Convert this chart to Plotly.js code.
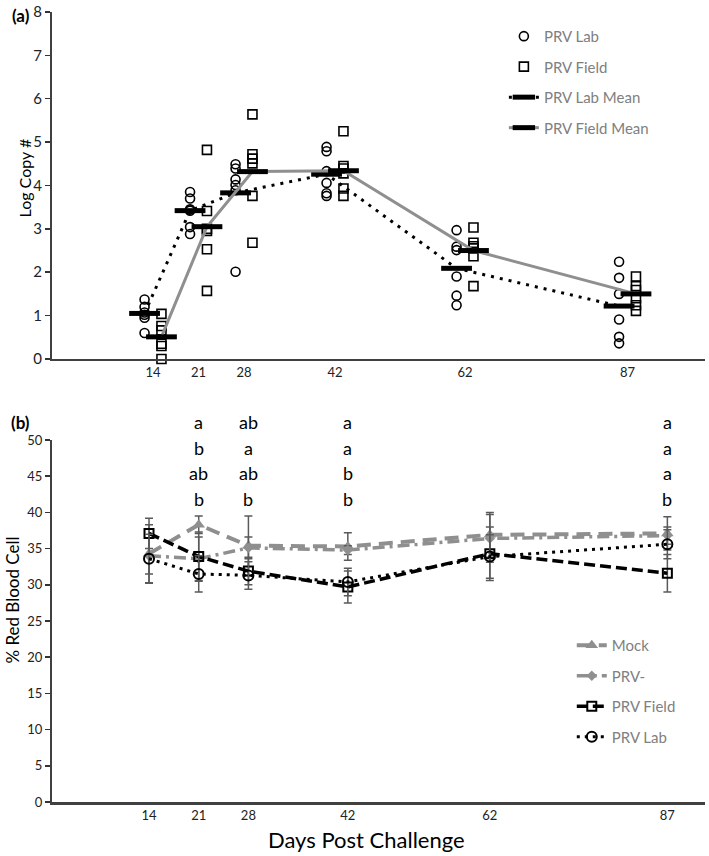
<!DOCTYPE html>
<html><head><meta charset="utf-8">
<script src="https://cdn.plot.ly/plotly-3.0.1.min.js"></script>
<style>html,body{margin:0;padding:0;background:#fff}#chart{width:709px;height:856px}</style>
</head><body><div id="chart"></div>
<script>
// ---------- data ----------
const days = [14, 21, 28, 42, 62, 87];
const dayLabels = ['14', '21', '28', '42', '62', '87'];

// (a) log copy number, individual animals per day
const labLog = [
  [1.37, 1.20, 1.07, 1.02, 0.95, 0.60],
  [3.85, 3.70, 3.45, 3.42, 3.04, 2.88],
  [4.49, 4.39, 4.14, 4.01, 3.89, 2.01],
  [4.89, 4.79, 4.33, 4.06, 3.82, 3.76],
  [2.97, 2.59, 2.51, 1.90, 1.46, 1.24],
  [2.24, 1.87, 1.50, 0.91, 0.51, 0.36]
];
const fieldLog = [
  [1.04, 0.76, 0.66, 0.35, 0.30, 0.00],
  [4.82, 3.41, 3.00, 2.95, 2.53, 1.57],
  [5.64, 4.72, 4.62, 4.51, 3.76, 2.68],
  [5.25, 4.45, 4.39, 4.28, 3.93, 3.76],
  [3.03, 2.68, 2.60, 2.55, 2.37, 1.68],
  [1.90, 1.68, 1.59, 1.40, 1.24, 1.11]
];
const labMean = [1.05, 3.42, 3.83, 4.26, 2.09, 1.22];
const fieldMean = [0.51, 3.05, 4.32, 4.34, 2.50, 1.50];

// (b) % red blood cell
const mockRbc = [34.3, 38.3, 35.4, 35.3, 36.9, 37.1];
const mockErr = [4.0, 1.2, 4.1, 1.9, 3.1, 2.3];
const prvNegRbc = [34.0, 33.6, 35.1, 34.8, 36.4, 36.8];
const prvNegErr = [2.5, 3.0, 1.5, 0.6, 3.3, 1.2];
const fieldRbc = [37.1, 33.9, 31.9, 29.7, 34.3, 31.6];
const fieldErr = [2.1, 3.4, 1.9, 2.2, 3.7, 2.6];
const labRbc = [33.6, 31.5, 31.3, 30.4, 33.9, 35.6];
const labErr = [3.4, 2.5, 1.9, 1.9, 3.0, 2.0];

// significance letters (rows top to bottom)
const letterDays = [21, 28, 42, 87];
const letters = [
  ['a', 'b', 'ab', 'b'],
  ['ab', 'a', 'ab', 'b'],
  ['a', 'a', 'b', 'b'],
  ['a', 'a', 'a', 'b']
];

// ---------- styling ----------
const FONT = 'Lato, "Open Sans", sans-serif';
const GREY = '#8f8f8f';
const OFF = 1.3; // horizontal jitter (days) between lab / field groups in (a)

function flatten(groups, shift) {
  const x = [], y = [];
  groups.forEach((g, i) => g.forEach(v => { x.push(days[i] + shift); y.push(v); }));
  return {x, y};
}
const labPts = flatten(labLog, -OFF);
const fieldPts = flatten(fieldLog, OFF);

const traces = [
  {x: labPts.x, y: labPts.y, type: 'scatter', mode: 'markers', name: 'PRV Lab',
   legendgroup: 'a1', legend: 'legend', cliponaxis: false,
   marker: {symbol: 'circle-open', size: 9, color: '#000', line: {width: 1.6}}},
  {x: fieldPts.x, y: fieldPts.y, type: 'scatter', mode: 'markers', name: 'PRV Field',
   legendgroup: 'a2', legend: 'legend', cliponaxis: false,
   marker: {symbol: 'square-open', size: 9, color: '#000', line: {width: 1.6}}},
  {x: days.map(d => d - OFF), y: labMean, type: 'scatter', mode: 'lines+markers', name: 'PRV Lab Mean',
   legendgroup: 'a3', legend: 'legend', cliponaxis: false,
   line: {color: '#000', width: 3, dash: '3px,6px'},
   marker: {symbol: 'line-ew', size: 22, color: '#000', line: {color: '#000', width: 5}}},
  {x: days.map(d => d + OFF), y: fieldMean, type: 'scatter', mode: 'lines+markers', name: 'PRV Field Mean',
   legendgroup: 'a4', legend: 'legend', cliponaxis: false,
   line: {color: GREY, width: 3},
   marker: {symbol: 'line-ew', size: 22, color: '#000', line: {color: '#000', width: 5}}},

  {x: days, y: mockRbc, xaxis: 'x2', yaxis: 'y2', type: 'scatter', mode: 'lines+markers', name: 'Mock',
   legendgroup: 'b1', legend: 'legend2',
   error_y: {type: 'data', array: mockErr, color: '#5a5a5a', thickness: 1.5, width: 4},
   line: {color: GREY, width: 4, dash: '14px,8px'},
   marker: {symbol: 'triangle-up', size: 11, color: GREY}},
  {x: days, y: prvNegRbc, xaxis: 'x2', yaxis: 'y2', type: 'scatter', mode: 'lines+markers', name: 'PRV-',
   legendgroup: 'b2', legend: 'legend2',
   error_y: {type: 'data', array: prvNegErr, color: '#5a5a5a', thickness: 1.5, width: 4},
   line: {color: GREY, width: 3.5, dash: '12px,5px,3px,5px'},
   marker: {symbol: 'diamond', size: 8, color: GREY}},
  {x: days, y: fieldRbc, xaxis: 'x2', yaxis: 'y2', type: 'scatter', mode: 'lines+markers', name: 'PRV Field',
   legendgroup: 'b3', legend: 'legend2',
   error_y: {type: 'data', array: fieldErr, color: '#5a5a5a', thickness: 1.5, width: 4},
   line: {color: '#000', width: 3.5, dash: '11px,5px'},
   marker: {symbol: 'square-open', size: 9, color: '#000', line: {width: 2}}},
  {x: days, y: labRbc, xaxis: 'x2', yaxis: 'y2', type: 'scatter', mode: 'lines+markers', name: 'PRV Lab',
   legendgroup: 'b4', legend: 'legend2',
   error_y: {type: 'data', array: labErr, color: '#5a5a5a', thickness: 1.5, width: 4},
   line: {color: '#000', width: 3, dash: '3px,5px'},
   marker: {symbol: 'circle-open', size: 10, color: '#000', line: {width: 2}}}
];

// letter annotations: rows placed relative to the (b) y-axis domain (value / 50)
const Y2MAX = 50;
const rowY = [52.5, 48.9, 45.4, 41.8];
const annotations = [];
letterDays.forEach((d, i) => letters[i].forEach((t, r) => annotations.push({
  x: d, y: rowY[r] / Y2MAX, xref: 'x2', yref: 'y2 domain', text: t, showarrow: false,
  xanchor: 'center', yanchor: 'middle',
  font: {family: FONT, size: 18, color: '#000'}
})));
// panel labels and axis titles
const P = (o) => Object.assign({xref: 'paper', yref: 'paper', showarrow: false, xanchor: 'center', yanchor: 'middle'}, o);
annotations.push(
  P({x: -0.048, y: 0.995, text: '<b>(a)</b>', font: {family: FONT, size: 17, color: '#000'}}),
  P({x: -0.049, y: 0.481, text: '<b>(b)</b>', font: {family: FONT, size: 17, color: '#000'}}),
  P({x: -0.042, y: 0.790, text: 'Log Copy #', textangle: -90, font: {family: FONT, size: 16, color: '#000'}}),
  P({x: -0.060, y: 0.256, text: '% Red Blood Cell', textangle: -90, font: {family: FONT, size: 17, color: '#000'}}),
  P({x: 0.481, y: -0.047, text: 'Days Post Challenge', font: {family: FONT, size: 22, color: '#000'}})
);

const axisCommon = {showgrid: false, zeroline: false, showline: true, linecolor: '#404040', linewidth: 2,
  tickfont: {family: FONT, size: 13, color: '#222'}};

const layout = {
  width: 709, height: 856,
  margin: {l: 52, r: 4, t: 12, b: 54},
  paper_bgcolor: '#fff', plot_bgcolor: '#fff',
  font: {family: FONT, color: '#000'},
  showlegend: true,
  xaxis: Object.assign({}, axisCommon, {anchor: 'y', domain: [0, 1], range: [-1.54, 98.92],
    tickmode: 'array', tickvals: days, ticktext: dayLabels, ticks: ''}),
  yaxis: Object.assign({}, axisCommon, {anchor: 'x', domain: [0.5608, 1], range: [0, 8], dtick: 1,
    ticks: 'outside', ticklen: 5, tickwidth: 1.5, tickcolor: '#333', tickfont: {family: FONT, size: 15, color: '#222'}}),
  xaxis2: Object.assign({}, axisCommon, {anchor: 'y2', domain: [0, 1], range: [0.338, 92.3],
    tickmode: 'array', tickvals: days, ticktext: dayLabels, ticks: '', linewidth: 2.5}),
  yaxis2: Object.assign({}, axisCommon, {anchor: 'x2', domain: [0, 0.4582], range: [0, Y2MAX], dtick: 5,
    ticks: 'outside', ticklen: 5, tickwidth: 1.5, tickcolor: '#333'}),
  legend: {x: 0.692, xanchor: 'left', y: 0.99, yanchor: 'top', bgcolor: 'rgba(0,0,0,0)',
    font: {family: FONT, size: 15, color: '#808080'}, tracegroupgap: 8},
  legend2: {x: 0.796, xanchor: 'left', y: 0.219, yanchor: 'top', bgcolor: 'rgba(0,0,0,0)',
    font: {family: FONT, size: 15, color: '#808080'}, tracegroupgap: 8},
  annotations: annotations
};

Plotly.newPlot('chart', traces, layout, {displayModeBar: false, staticPlot: true});
</script>
</body></html>
